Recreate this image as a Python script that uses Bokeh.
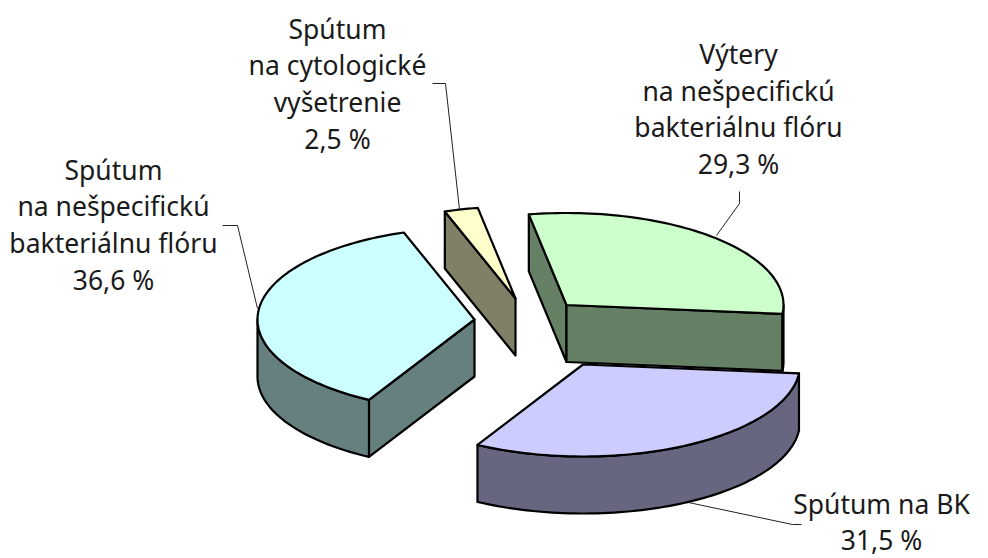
import math
from bokeh.plotting import figure
from bokeh.core.properties import value
from bokeh.embed import file_html
from bokeh.resources import INLINE

# ---- data ----
categories = ["Výtery\nna nešpecifickú\nbakteriálnu flóru",
              "Spútum na BK",
              "Spútum\nna nešpecifickú\nbakteriálnu flóru",
              "Spútum\nna cytologické\nvyšetrenie"]
shares = [29.3, 31.5, 36.6, 2.5]

# ---- styles ----
top_colors = ["#CCFFCC", "#CCCCFF", "#CCFFFF", "#FFFFCC"]
side_colors = ["#668066", "#666680", "#668080", "#808066"]

# ---- layout of the exploded 3-D pie ----
START_ANGLE = -100.0
RX, RY, DEPTH = 217.0, 92.0, 57.0
apexes = [(566.0, 304.5), (582.5, 364.0), (474.0, 319.0), (515.0, 298.0)]
label_anchor = [(738, 53.5), (881, 503), (113, 169), (337, 28)]
LINE_STEP = 36.7
leaders = [
    [(739, 191), (739, 203), (716, 235)],
    [(688, 502), (792, 524), (801, 524)],
    [(222, 225), (237, 225), (257, 308)],
    [(432, 83), (445, 83), (459, 209)],
]

p = figure(width=988, height=558, x_range=(0, 988), y_range=(558, 0),
           output_backend="svg", toolbar_location=None, min_border=0,
           background_fill_color="white", border_fill_color="white", outline_line_color=None)
p.axis.visible = False
p.grid.visible = False


def rim(ax, ay, t, dz=0.0):
    r = math.radians(t)
    return ax + RX * math.cos(r), ay + RY * math.sin(r) + dz


def arc(ax, ay, t0, t1, dz=0.0):
    n = max(2, int(abs(t1 - t0) / 1.5) + 2)
    return [rim(ax, ay, t0 + (t1 - t0) * i / (n - 1), dz) for i in range(n)]


def face(points, color):
    p.patch([q[0] for q in points], [q[1] for q in points], fill_color=color,
            line_color="black", line_width=2.2, line_join="round")


total = sum(shares)
bounds = [START_ANGLE]
for s in shares:
    bounds.append(bounds[-1] + 360.0 * s / total)

for i in range(len(shares)):
    ax, ay = apexes[i]
    t0, t1 = bounds[i], bounds[i + 1]
    side = side_colors[i]
    if math.cos(math.radians(t0)) < 0:
        a, b = (ax, ay), rim(ax, ay, t0)
        face([a, b, (b[0], b[1] + DEPTH), (a[0], a[1] + DEPTH)], side)
    if math.cos(math.radians(t1)) > 0:
        a, b = (ax, ay), rim(ax, ay, t1)
        face([a, b, (b[0], b[1] + DEPTH), (a[0], a[1] + DEPTH)], side)
    w0, w1 = max(t0, 0.0), min(t1, 180.0)
    if w1 > w0:
        face(arc(ax, ay, w0, w1) + arc(ax, ay, w1, w0, DEPTH), side)
    face([(ax, ay)] + arc(ax, ay, t0, t1), top_colors[i])

for pts in leaders:
    p.line([q[0] for q in pts], [q[1] for q in pts], line_color="#222222", line_width=1)

tx, ty, ts = [], [], []
for cat, s, (x, y) in zip(categories, shares, label_anchor):
    lines = cat.split("\n") + [f"{s:.1f} %".replace(".", ",")]
    for k, line in enumerate(lines):
        tx.append(x)
        ty.append(y + k * LINE_STEP)
        ts.append(line)
p.text(tx, ty, text=ts, text_align="center", text_baseline="middle", text_color="#1a1a1a",
       text_font=value("Noto Sans"), text_font_size="26.5px")

open("out.html", "w").write(file_html(p, INLINE))
